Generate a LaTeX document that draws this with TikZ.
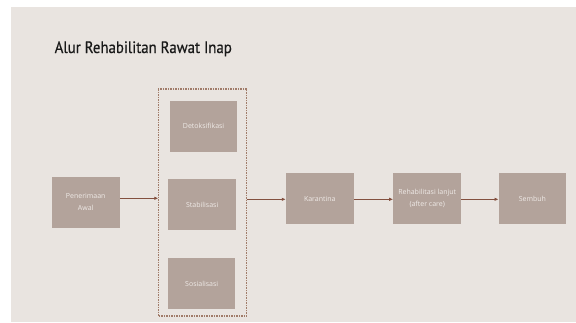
\documentclass[tikz,border=0pt]{standalone}
\usepackage{fontspec}
\setmainfont{Open Sans}
\newfontfamily\titlefont[FakeStretch=0.9,FakeBold=0.5]{PT Sans}
\usetikzlibrary{arrows.meta}
\definecolor{bgc}{HTML}{E9E4E0}
\definecolor{boxc}{HTML}{B3A39B}
\definecolor{arrc}{HTML}{83503F}
\definecolor{dashc}{HTML}{A07B69}
\definecolor{txtc}{HTML}{EFEAE7}
\begin{document}
\begin{tikzpicture}[x=1pt,y=-1pt,
  stepbox/.style={fill=boxc,draw=none,inner sep=0pt,align=center,text=txtc,font=\fontsize{7}{12}\selectfont},
  flow/.style={draw=arrc,line width=1pt,-{Latex[length=4pt,width=3.5pt]}},
  groupbox/.style={draw=dashc,dashed,dash pattern=on 1.6pt off 0.9pt,line width=1.2pt}]
\useasboundingbox (0,0) rectangle (576,322);
\fill[white] (0,0) rectangle (576,322);
\fill[bgc] (11,7) rectangle (576,322);
\node[anchor=base west,inner sep=0pt,text=black!90,font=\titlefont\fontsize{16.5}{18}\selectfont] (title) at (54.5,53) {Alur Rehabilitan Rawat Inap};
\draw[groupbox] (158.3,89) rectangle (246.7,316);
\coordinate (gl) at (158.3,198.3);
\coordinate (gr) at (246.7,199.3);
\node[stepbox,minimum width=67.3pt,minimum height=51pt] (det) at (203.6,126.2) {Detoksifikasi};
\node[stepbox,minimum width=67.7pt,minimum height=51pt] (sta) at (202.2,204.8) {Stabilisasi};
\node[stepbox,minimum width=67.3pt,minimum height=51.3pt] (sos) at (201.7,283.7) {Sosialisasi};
\node[stepbox,minimum width=68pt,minimum height=50.7pt] (pen) at (85.7,202.4) {Penerimaan\\Awal};
\node[stepbox,minimum width=67.7pt,minimum height=50.7pt] (kar) at (319.8,198.7) {Karantina};
\node[stepbox,minimum width=67.7pt,minimum height=50.7pt] (reh) at (427.2,198.7) {Rehabilitasi lanjut\\(after care)};
\node[stepbox,minimum width=67.3pt,minimum height=50.7pt] (sem) at (532.4,198.7) {Sembuh};
\draw[flow] (pen.east |- gl) -- (gl);
\draw[flow] (gr) -- (kar.west |- gr);
\draw[flow] (kar.east |- gr) -- (reh.west |- gr);
\draw[flow] (reh.east |- gr) -- (sem.west |- gr);
\end{tikzpicture}
\end{document}
